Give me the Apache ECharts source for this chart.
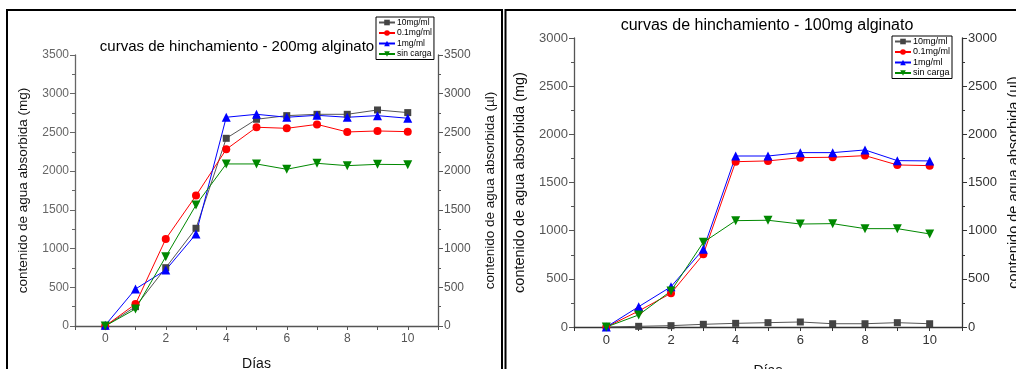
<!DOCTYPE html>
<html>
<head>
<meta charset="utf-8">
<script src="https://cdn.jsdelivr.net/npm/echarts@6/dist/echarts.min.js"></script>
<style>
html,body{margin:0;padding:0;background:#fff;}
#c{width:1016px;height:369px;}
</style>
</head>
<body>
<div id="c"></div>
<script>
var days = [0, 1, 2, 3, 4, 5, 6, 7, 8, 9, 10];
var seriesNames = ['10mg/ml', '0.1mg/ml', '1mg/ml', 'sin carga'];

// 200mg alginato (left panel)
var g10_200 = [0, 250, 753, 1262, 2424, 2670, 2717, 2734, 2734, 2790, 2756];
var r01_200 = [0, 284, 1124, 1684, 2282, 2567, 2553, 2604, 2506, 2519, 2510];
var b1_200  = [10, 478, 723, 1188, 2696, 2734, 2696, 2721, 2696, 2717, 2683];
var gsc_200 = [0, 220, 895, 1563, 2093, 2093, 2024, 2101, 2071, 2088, 2084];

// 100mg alginato (right panel)
var g10_100 = [0, 7, 14, 28, 38, 45, 52, 34, 34, 45, 34];
var r01_100 = [0, 166, 350, 755, 1716, 1724, 1758, 1762, 1779, 1682, 1675];
var b1_100  = [0, 211, 418, 807, 1775, 1775, 1810, 1810, 1838, 1727, 1724];
var gsc_100 = [0, 125, 374, 879, 1104, 1108, 1069, 1073, 1021, 1021, 966];

var titles = ['curvas de hinchamiento - 200mg alginato', 'curvas de hinchamiento - 100mg alginato'];
var yNameL = 'contenido de agua absorbida (mg)';
var yNameR = 'contenido de agua absorbida (µl)';
var xName = 'Días';

var FONT = 'Liberation Sans, Arial, sans-serif';
var colors = ['#444444', '#ff0000', '#0000ff', '#008800'];
var lineColors = ['#555555', '#ff0000', '#0000ff', '#008800'];
var symbols = ['rect', 'circle', 'triangle', 'path://M0,0 L10,0 L5,9 Z'];
var sizes = [7, 8, 9, 9];

function pairs(vals){ return days.map(function(d,i){ return [d, vals[i]]; }); }

function mkSeries(dataSets, xi, yi){
  return dataSets.map(function(vals, k){
    return {
      name: seriesNames[k], type: 'line', xAxisIndex: xi, yAxisIndex: yi,
      data: pairs(vals), symbol: symbols[k], symbolSize: sizes[k],
      showAllSymbol: true, animation: false,
      lineStyle: {color: lineColors[k], width: 1},
      itemStyle: {color: colors[k]}
    };
  });
}

function xAxis(gi, labelSize, col){
  return {
    type: 'value', gridIndex: gi, min: -1, max: 11, interval: 1,
    name: xName, nameLocation: 'middle', nameGap: gi === 0 ? 31 : 37,
    nameTextStyle: {fontFamily: FONT, fontSize: 14, color: '#111'},
    axisLine: {lineStyle: {color: col, width: 1.3}},
    axisTick: {show: true, length: 4, inside: false, lineStyle: {color: col}},
    axisLabel: {fontFamily: FONT, fontSize: labelSize, color: col, margin: 7,
      formatter: function(v){ return (v >= 0 && v <= 10 && v % 2 === 0) ? String(v) : ''; }},
    splitLine: {show: false}
  };
}

function yAxis(gi, pos, max, name, gap, labelSize, col, nameSize){
  return {
    type: 'value', gridIndex: gi, position: pos, min: 0, max: max, interval: 500,
    name: name, nameLocation: 'middle', nameGap: gap, nameRotate: 90,
    nameTextStyle: {fontFamily: FONT, fontSize: nameSize, color: '#111'},
    axisLine: {show: true, onZero: false, lineStyle: {color: col, width: 1.3}},
    axisTick: {show: true, length: 5, lineStyle: {color: col}},
    minorTick: {show: true, splitNumber: 2, length: 3, lineStyle: {color: col}},
    axisLabel: {fontFamily: FONT, fontSize: labelSize, color: col, margin: 6,
      formatter: function(v){ return String(v); }},
    splitLine: {show: false}
  };
}

function legend(left, top, fs){
  return {
    data: seriesNames, left: left, top: top, orient: 'vertical',
    itemWidth: 16, itemHeight: 7, itemGap: 1.5, padding: [1, 2, 1, 2],
    borderColor: '#000', borderWidth: 1, backgroundColor: '#fff',
    textStyle: {fontFamily: FONT, fontSize: fs, color: '#000', padding: [0,0,0,-3]},
    selectedMode: false
  };
}

var chart = echarts.init(document.getElementById('c'), null, {renderer: 'canvas'});
chart.setOption({
  backgroundColor: '#fff',
  animation: false,
  title: [
    {text: titles[0], left: 232, top: 34, textAlign: 'center',
     textStyle: {fontFamily: FONT, fontSize: 15, fontWeight: 'normal', color: '#000'}},
    {text: titles[1], left: 762, top: 13, textAlign: 'center',
     textStyle: {fontFamily: FONT, fontSize: 16, fontWeight: 'normal', color: '#000'}}
  ],
  legend: [legend(376, 17, 8.5), legend(892, 36, 9)],
  grid: [
    {left: 75, top: 55, width: 363, height: 271, containLabel: false, outerBoundsMode: 'none'},
    {left: 574, top: 38, width: 388, height: 289, containLabel: false, outerBoundsMode: 'none'}
  ],
  xAxis: [xAxis(0, 12, '#555'), xAxis(1, 13, '#333')],
  yAxis: [
    yAxis(0, 'left', 3500, yNameL, 45, 12, '#666', 13.5),
    yAxis(0, 'right', 3500, yNameR, 45, 12, '#555', 13.5),
    yAxis(1, 'left', 3000, yNameL, 47, 13, '#555', 14.5),
    yAxis(1, 'right', 3000, yNameR, 44, 13, '#333', 14.5)
  ],
  series: [].concat(
    mkSeries([g10_200, r01_200, b1_200, gsc_200], 0, 0),
    mkSeries([g10_100, r01_100, b1_100, gsc_100], 1, 2)
  ),
  graphic: [
    {type: 'rect', shape: {x: 7, y: 10, width: 495, height: 400},
     style: {fill: null, stroke: '#000', lineWidth: 2}, z: 100, silent: true},
    {type: 'rect', shape: {x: 505.5, y: 10, width: 530, height: 400},
     style: {fill: null, stroke: '#000', lineWidth: 2}, z: 100, silent: true}
  ]
});
</script>
</body>
</html>
